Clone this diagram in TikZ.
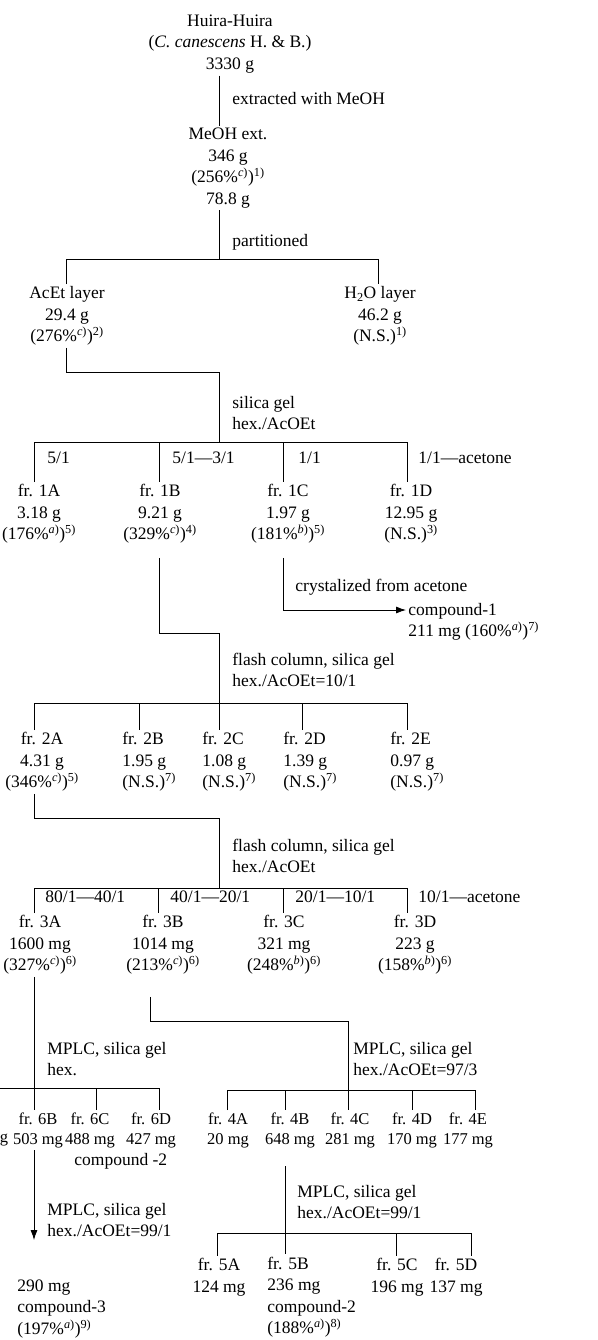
\documentclass[tikz,border=0pt]{standalone}
\usepackage{fontspec}
\setmainfont{Liberation Serif}
\usetikzlibrary{arrows.meta}
\newcommand\yld[3]{(#1\%\textsuperscript{\textit{#2})})\textsuperscript{#3)}}
\newcommand\nsf[1]{(N.S.)\textsuperscript{#1)}}
\begin{document}
\begin{tikzpicture}
  [x=1pt, y=-1pt, line width=0.8pt,
   sample/.style={
    inner sep=2pt,
    align=center,
    font=\fontsize{17.5}{21.5}\selectfont},
   sampleleft/.style={
    sample,
    anchor=west,
    align=left},
   samplesmall/.style={
    sample,
    font=\fontsize{16.5}{20}\selectfont},
   cond/.style={
    inner sep=1pt,
    anchor=west,
    align=left,
    font=\fontsize{17.5}{21.5}\selectfont},
   arr/.style={-{Latex[length=10pt,width=7pt]}}]

  \useasboundingbox (0,0) rectangle (597,1340);

  \node [sample] at (230,44) (huira) {Huira-Huira\\(\textit{C. canescens} H.~\&~B.)\\3330 g};
  \node [sample] at (228,168) (meoh) {MeOH ext.\\346 g\\\yld{256}{c}{1}\\78.8 g};
  \node [sample] at (67,316) (acet) {AcEt layer\\29.4 g\\\yld{276}{c}{2}};
  \node [sample] at (380,316) (water) {H\textsubscript{2}O layer\\46.2 g\\\nsf{1}};

  \node [sample] at (39,514) (fr1a) {fr. 1A\\3.18 g\\\yld{176}{a}{5}};
  \node [sample] at (160,514) (fr1b) {fr. 1B\\9.21 g\\\yld{329}{c}{4}};
  \node [sample] at (288,514) (fr1c) {fr. 1C\\1.97 g\\\yld{181}{b}{5}};
  \node [sample] at (411,514) (fr1d) {fr. 1D\\12.95 g\\\nsf{3}};
  \node [sampleleft] at (406,622) (comp1) {compound-1\\211 mg \yld{160}{a}{7}};

  \node [sample] at (42,762) (fr2a) {fr. 2A\\4.31 g\\\yld{346}{c}{5}};
  \node [sampleleft] at (120,762) (fr2b) {fr. 2B\\1.95 g\\\nsf{7}};
  \node [sampleleft] at (200,762) (fr2c) {fr. 2C\\1.08 g\\\nsf{7}};
  \node [sampleleft] at (281,762) (fr2d) {fr. 2D\\1.39 g\\\nsf{7}};
  \node [sampleleft] at (388,762) (fr2e) {fr. 2E\\0.97 g\\\nsf{7}};

  \node [sample] at (40,945) (fr3a) {fr. 3A\\1600 mg\\\yld{327}{c}{6}};
  \node [sample] at (163,945) (fr3b) {fr. 3B\\1014 mg\\\yld{213}{c}{6}};
  \node [sample] at (284,945) (fr3c) {fr. 3C\\321 mg\\\yld{248}{b}{6}};
  \node [sample] at (415,945) (fr3d) {fr. 3D\\223 g\\\yld{158}{b}{6}};

  \node [samplesmall, inner sep=0pt] at (4,1140) (fr6a) {g};
  \node [samplesmall] at (38,1130) (fr6b) {fr. 6B\\503 mg};
  \node [samplesmall] at (90,1130) (fr6c) {fr. 6C\\488 mg};
  \node [samplesmall] at (151,1130) (fr6d) {fr. 6D\\427 mg};
  \node [sampleleft] at (72,1161) (comp2a) {compound -2};
  \node [sampleleft] at (15,1309) (comp3) {290 mg\\compound-3\\\yld{197}{a}{9}};

  \node [samplesmall] at (228,1130) (fr4a) {fr. 4A\\20 mg};
  \node [samplesmall] at (290,1130) (fr4b) {fr. 4B\\648 mg};
  \node [samplesmall] at (350,1130) (fr4c) {fr. 4C\\281 mg};
  \node [samplesmall] at (412,1130) (fr4d) {fr. 4D\\170 mg};
  \node [samplesmall] at (468,1130) (fr4e) {fr. 4E\\177 mg};

  \node [sample] at (219,1277) (fr5a) {fr. 5A\\124 mg};
  \node [sampleleft] at (265,1297) (fr5b) {fr. 5B\\236 mg\\compound-2\\\yld{188}{a}{8}};
  \node [sample] at (397,1277) (fr5c) {fr. 5C\\196 mg};
  \node [sample] at (456,1277) (fr5d) {fr. 5D\\137 mg};

  \node [cond] at (231,99) (extr) {extracted with MeOH};
  \node [cond] at (231,242) (part) {partitioned};
  \node [cond] at (231,413) (silica1) {silica gel\\hex./AcOEt};
  \node [cond] at (46,458) (r1a) {5/1};
  \node [cond] at (171,458) (r1b) {5/1---3/1};
  \node [cond] at (297,458) (r1c) {1/1};
  \node [cond] at (417,458) (r1d) {1/1---acetone};
  \node [cond] at (294,587) (cryst) {crystalized from acetone};
  \node [cond] at (231,670) (flash1) {flash column, silica gel\\hex./AcOEt=10/1};
  \node [cond] at (231,856) (flash2) {flash column, silica gel\\hex./AcOEt};
  \node [cond] at (44,897) (r3a) {80/1---40/1};
  \node [cond] at (169,897) (r3b) {40/1---20/1};
  \node [cond] at (294,897) (r3c) {20/1---10/1};
  \node [cond] at (417,897) (r3d) {10/1---acetone};
  \node [cond] at (46,1059) (mplc6) {MPLC, silica gel\\hex.};
  \node [cond] at (352,1059) (mplc4) {MPLC, silica gel\\hex./AcOEt=97/3};
  \node [cond] at (46,1220) (mplc3) {MPLC, silica gel\\hex./AcOEt=99/1};
  \node [cond] at (296,1202) (mplc5) {MPLC, silica gel\\hex./AcOEt=99/1};

  \coordinate (t0) at (219,0);
  \coordinate (j1) at (219,259);
  \coordinate (j1a) at (66,259);
  \coordinate (j1b) at (378,259);
  \coordinate (j2) at (219,372);
  \coordinate (k1) at (219,442);
  \coordinate (d1a) at (34,442);
  \coordinate (d1b) at (159,442);
  \coordinate (d1c) at (283,442);
  \coordinate (d1d) at (407,442);
  \coordinate (j3) at (219,633);
  \coordinate (k2) at (219,703);
  \coordinate (d2a) at (34,703);
  \coordinate (d2b) at (139,703);
  \coordinate (d2d) at (302,703);
  \coordinate (d2e) at (407,703);
  \coordinate (j4) at (219,818);
  \coordinate (k3) at (219,888);
  \coordinate (d3a) at (34,888);
  \coordinate (d3b) at (158,888);
  \coordinate (d3c) at (283,888);
  \coordinate (d3d) at (407,888);
  \coordinate (k6) at (0,1088);
  \coordinate (d6c) at (96,1088);
  \coordinate (d6d) at (159,1088);
  \coordinate (s3b) at (150,1021);
  \coordinate (j5) at (348,1021);
  \coordinate (d4a) at (227,1090);
  \coordinate (d4b) at (285,1090);
  \coordinate (d4d) at (412,1090);
  \coordinate (d4e) at (475,1090);
  \coordinate (d5a) at (217,1233);
  \coordinate (d5c) at (396,1233);
  \coordinate (d5d) at (471,1233);
  \coordinate (e6) at (34,1240);

  \draw (huira.south -| t0) -- (meoh.north -| t0);
  \draw (meoh.south -| j1) -- (j1);
  \draw (acet.north -| j1a) -- (j1a) -- (j1b) -- (water.north -| j1b);
  \draw (acet.south -| j1a) |- (j2) -- (k1);

  \draw (d1a |- fr1a.north) -- (d1a) -- (d1d) -- (d1d |- fr1d.north);
  \draw (d1b) -- (d1b |- fr1b.north);
  \draw (d1c) -- (d1c |- fr1c.north);
  \draw [arr, shorten <=12pt] (fr1c.south -| d1c) |- ([yshift=12pt]comp1.west);
  \draw [shorten <=12pt] (fr1b.south -| d1b) |- (j3) -- (k2);

  \draw (d2a |- fr2a.north) -- (d2a) -- (d2e) -- (d2e |- fr2e.north);
  \draw (d2b) -- (d2b |- fr2b.north);
  \draw (k2) -- (k2 |- fr2c.north);
  \draw (d2d) -- (d2d |- fr2d.north);
  \draw (fr2a.south -| d2a) |- (j4) -- (k3);

  \draw (d3a |- fr3a.north) -- (d3a) -- (d3d) -- (d3d |- fr3d.north);
  \draw (d3b) -- (d3b |- fr3b.north);
  \draw (d3c) -- (d3c |- fr3c.north);

  \draw (fr3a.south -| d3a) -- (fr6b.north -| d3a);
  \draw (k6) -- (d6d) -- (d6d |- fr6d.north);
  \draw (d6c) -- (d6c |- fr6c.north);
  \draw [arr] (fr6b.south -| e6) -- (e6);

  \draw [shorten <=20pt] (fr3b.south -| s3b) |- (j5) -- (j5 |- fr4c.north);
  \draw (d4a |- fr4a.north) -- (d4a) -- (d4e) -- (d4e |- fr4e.north);
  \draw (d4b) -- (d4b |- fr4b.north);
  \draw (d4d) -- (d4d |- fr4d.north);

  \draw [shorten <=16pt] (fr4b.south -| d4b) -- (fr5b.north -| d4b);
  \draw (d5a |- fr5a.north) -- (d5a) -- (d5d) -- (d5d |- fr5d.north);
  \draw (d5c) -- (d5c |- fr5c.north);
\end{tikzpicture}
\end{document}
